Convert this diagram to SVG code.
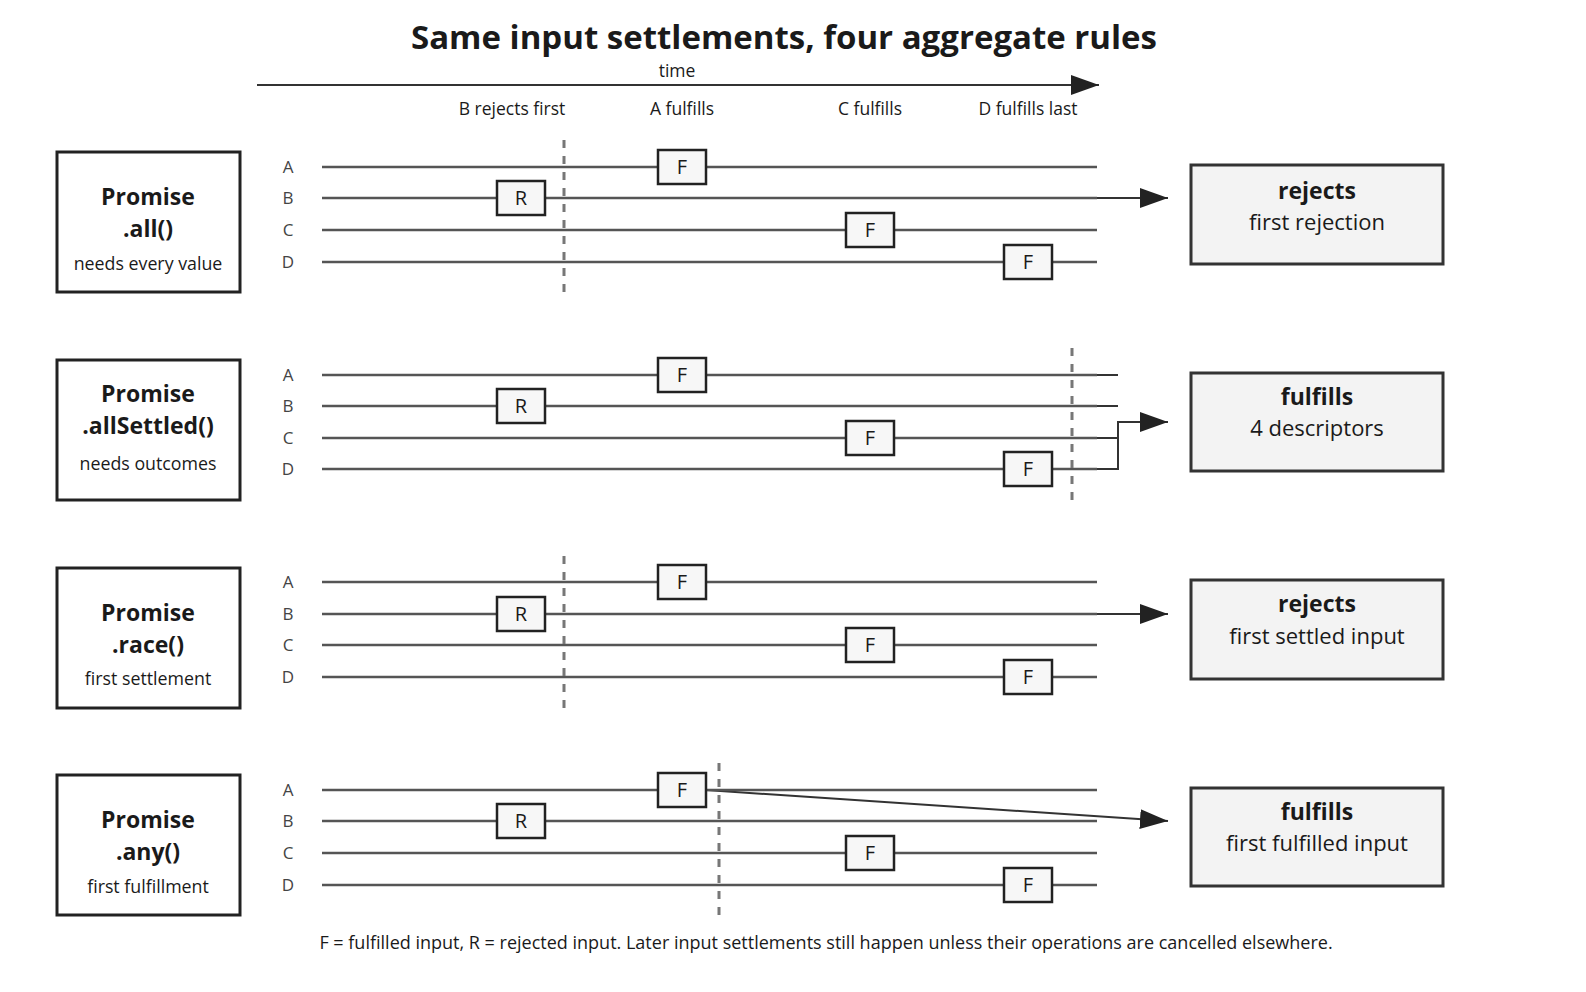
<svg xmlns="http://www.w3.org/2000/svg" width="1586" height="992" viewBox="0 0 1586 992">
<style>
text{font-family:"Open Sans","Noto Sans",sans-serif;fill:#1a1a1a;text-anchor:middle}
.t{font-size:33px;font-weight:bold}
.s{font-size:17.5px}
.f{font-size:18px}
.lab{font-size:17px;fill:#444}
.n{fill:#fff;stroke:#222;stroke-width:3}
.r{fill:#f3f3f3;stroke:#333;stroke-width:3}
.h{font-size:23px;font-weight:bold}
.sub{font-size:17.8px}
.rt{font-size:22px}
.lane{stroke:#555;stroke-width:2.5}
.dash{stroke:#777;stroke-width:3;stroke-dasharray:8,8}
.m{fill:#f7f7f7;stroke:#222;stroke-width:2.5}
.mt{font-size:20px}
.c{stroke:#333;stroke-width:2;fill:none}
</style>
<defs>
<marker id="ah" viewBox="0 0 28 20" refX="28" refY="10" markerWidth="28" markerHeight="20" markerUnits="userSpaceOnUse" orient="auto"><path d="M0,0L28,10L0,20z" fill="#222"/></marker>
</defs>
<rect width="1586" height="992" fill="#fff"/>
<text x="784" y="49" class="t">Same input settlements, four aggregate rules</text>
<line x1="257" y1="85" x2="1099" y2="85" class="c" marker-end="url(#ah)"/>
<text x="677" y="77" class="s">time</text>
<text x="512" y="115" class="s">B rejects first</text>
<text x="682" y="115" class="s">A fulfills</text>
<text x="870" y="115" class="s">C fulfills</text>
<text x="1028" y="115" class="s">D fulfills last</text>

<g id="connectors">
<line x1="1097" y1="198" x2="1168" y2="198" class="c" marker-end="url(#ah)"/>
<path d="M1097,375H1118M1097,406H1118M1097,438H1118M1052,469H1118V422H1168" class="c" marker-end="url(#ah)"/>
<line x1="1097" y1="614" x2="1168" y2="614" class="c" marker-end="url(#ah)"/>
<line x1="706" y1="790" x2="1168" y2="821" class="c" marker-end="url(#ah)"/>
</g>

<g id="row-all">
<rect x="57" y="152" width="183" height="140" class="n"/>
<text x="148" y="205" class="h">Promise</text><text x="148" y="237" class="h">.all()</text>
<text x="148" y="270" class="sub">needs every value</text>
<text x="288" y="173" class="lab">A</text><text x="288" y="204" class="lab">B</text><text x="288" y="236" class="lab">C</text><text x="288" y="268" class="lab">D</text>
<path d="M322,167H1097M322,198H1097M322,230H1097M322,262H1097" class="lane"/>
<line x1="564" y1="140" x2="564" y2="300" class="dash"/>
<rect x="658" y="150" width="48" height="34" class="m"/><text x="682" y="174" class="mt">F</text>
<rect x="497" y="181" width="48" height="34" class="m"/><text x="521" y="205" class="mt">R</text>
<rect x="846" y="213" width="48" height="34" class="m"/><text x="870" y="237" class="mt">F</text>
<rect x="1004" y="245" width="48" height="34" class="m"/><text x="1028" y="269" class="mt">F</text>
<rect x="1191" y="165" width="252" height="99" class="r"/>
<text x="1317" y="199" class="h">rejects</text><text x="1317" y="230" class="rt">first rejection</text>
</g>

<g id="row-allSettled">
<rect x="57" y="360" width="183" height="140" class="n"/>
<text x="148" y="402" class="h">Promise</text><text x="148" y="434" class="h">.allSettled()</text>
<text x="148" y="470" class="sub">needs outcomes</text>
<text x="288" y="381" class="lab">A</text><text x="288" y="412" class="lab">B</text><text x="288" y="444" class="lab">C</text><text x="288" y="475" class="lab">D</text>
<path d="M322,375H1097M322,406H1097M322,438H1097M322,469H1097" class="lane"/>
<line x1="1072" y1="348" x2="1072" y2="507" class="dash"/>
<rect x="658" y="358" width="48" height="34" class="m"/><text x="682" y="382" class="mt">F</text>
<rect x="497" y="389" width="48" height="34" class="m"/><text x="521" y="413" class="mt">R</text>
<rect x="846" y="421" width="48" height="34" class="m"/><text x="870" y="445" class="mt">F</text>
<rect x="1004" y="452" width="48" height="34" class="m"/><text x="1028" y="476" class="mt">F</text>
<rect x="1191" y="373" width="252" height="98" class="r"/>
<text x="1317" y="405" class="h">fulfills</text><text x="1317" y="436" class="rt">4 descriptors</text>
</g>

<g id="row-race">
<rect x="57" y="568" width="183" height="140" class="n"/>
<text x="148" y="621" class="h">Promise</text><text x="148" y="653" class="h">.race()</text>
<text x="148" y="685" class="sub">first settlement</text>
<text x="288" y="588" class="lab">A</text><text x="288" y="620" class="lab">B</text><text x="288" y="651" class="lab">C</text><text x="288" y="683" class="lab">D</text>
<path d="M322,582H1097M322,614H1097M322,645H1097M322,677H1097" class="lane"/>
<line x1="564" y1="556" x2="564" y2="715" class="dash"/>
<rect x="658" y="565" width="48" height="34" class="m"/><text x="682" y="589" class="mt">F</text>
<rect x="497" y="597" width="48" height="34" class="m"/><text x="521" y="621" class="mt">R</text>
<rect x="846" y="628" width="48" height="34" class="m"/><text x="870" y="652" class="mt">F</text>
<rect x="1004" y="660" width="48" height="34" class="m"/><text x="1028" y="684" class="mt">F</text>
<rect x="1191" y="580" width="252" height="99" class="r"/>
<text x="1317" y="612" class="h">rejects</text><text x="1317" y="644" class="rt">first settled input</text>
</g>

<g id="row-any">
<rect x="57" y="775" width="183" height="140" class="n"/>
<text x="148" y="828" class="h">Promise</text><text x="148" y="860" class="h">.any()</text>
<text x="148" y="893" class="sub">first fulfillment</text>
<text x="288" y="796" class="lab">A</text><text x="288" y="827" class="lab">B</text><text x="288" y="859" class="lab">C</text><text x="288" y="891" class="lab">D</text>
<path d="M322,790H1097M322,821H1097M322,853H1097M322,885H1097" class="lane"/>
<line x1="719" y1="763" x2="719" y2="922" class="dash"/>
<rect x="658" y="773" width="48" height="34" class="m"/><text x="682" y="797" class="mt">F</text>
<rect x="497" y="804" width="48" height="34" class="m"/><text x="521" y="828" class="mt">R</text>
<rect x="846" y="836" width="48" height="34" class="m"/><text x="870" y="860" class="mt">F</text>
<rect x="1004" y="868" width="48" height="34" class="m"/><text x="1028" y="892" class="mt">F</text>
<rect x="1191" y="788" width="252" height="98" class="r"/>
<text x="1317" y="820" class="h">fulfills</text><text x="1317" y="851" class="rt">first fulfilled input</text>
</g>

<text x="826" y="949" class="f">F = fulfilled input, R = rejected input. Later input settlements still happen unless their operations are cancelled elsewhere.</text>
</svg>
